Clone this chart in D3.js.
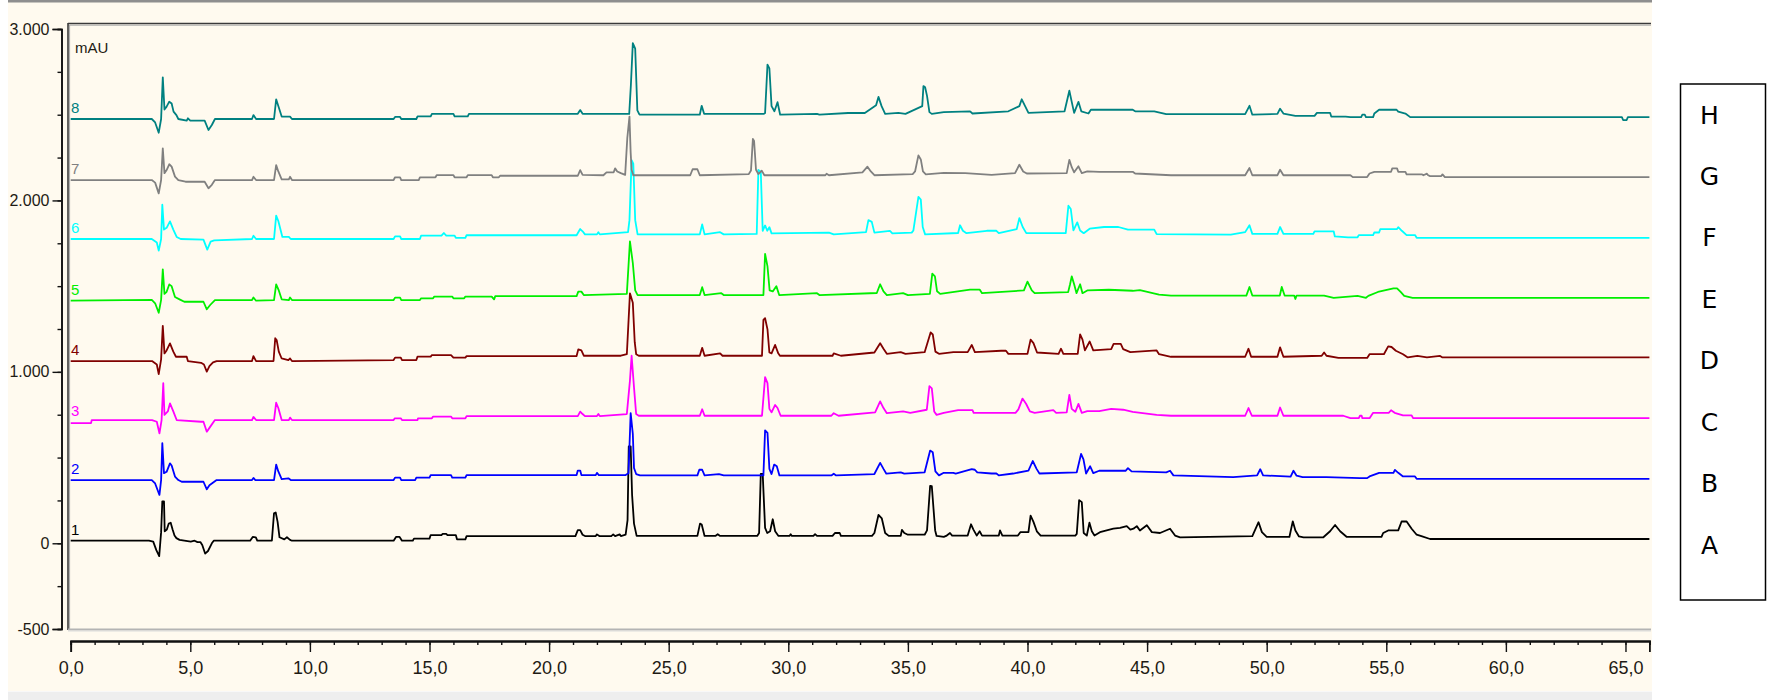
<!DOCTYPE html>
<html>
<head>
<meta charset="utf-8">
<script src="https://cdn.jsdelivr.net/npm/d3@7"></script>
<style>
  html, body { margin: 0; padding: 0; background: #ffffff; }
  svg { display: block; }
</style>
</head>
<body>
<svg id="chart" width="1767" height="700"></svg>
<script>
// Overlay of eight chromatograms (UV, mAU) drawn with a stacking offset.
const traceNumbers = ["1", "2", "3", "4", "5", "6", "7", "8"];
const legendLetters = ["A", "B", "C", "D", "E", "F", "G", "H"];
const traceColors = ["#000000", "#0000ff", "#ff00ff", "#800000", "#00ee00", "#00ffff", "#808080", "#008080"];
const traceOffsets = [15, 369, 709, 1063, 1415, 1775, 2119, 2475];

const yTickValues = [-500, 0, 1000, 2000, 3000];
const yTickLabels = ["-500", "0", "1.000", "2.000", "3.000"];
const xTickValues = [0, 5, 10, 15, 20, 25, 30, 35, 40, 45, 50, 55, 60, 65];
const xTickLabels = ["0,0", "5,0", "10,0", "15,0", "20,0", "25,0", "30,0", "35,0", "40,0", "45,0", "50,0", "55,0", "60,0", "65,0"];

// [retention time (min), signal above trace offset (mAU)]
const trace1 = [[0,0],[3.27,0],[3.45,-5],[3.58,-55],[3.7,-90],[3.78,50],[3.83,230],[3.9,230],[3.93,55],[4.02,65],[4.1,100],[4.18,105],[4.26,65],[4.34,30],[4.42,15],[4.55,5],[5.02,-5],[5.18,0],[5.3,-8],[5.42,-8],[5.5,-25],[5.62,-75],[5.74,-60],[5.9,-15],[5.98,0],[7.5,0],[7.61,22],[7.74,20],[7.8,0],[8.41,0],[8.5,160],[8.57,165],[8.65,110],[8.73,20],[8.93,8],[9.04,20],[9.17,5],[9.25,0],[13.5,0],[13.6,22],[13.75,22],[13.85,0],[14.3,0],[14.35,12],[15.0,12],[15.05,33],[15.5,33],[15.55,40],[15.7,40],[15.75,33],[16.1,33],[16.15,8],[16.5,8],[16.55,27],[21.1,27],[21.2,62],[21.3,62],[21.4,35],[21.5,27],[21.95,27],[22.0,37],[22.1,27],[22.6,27],[22.68,37],[22.76,27],[22.95,37],[23.0,27],[23.2,35],[23.28,120],[23.33,550],[23.41,550],[23.47,267],[23.55,100],[23.66,28],[26.2,28],[26.31,100],[26.38,95],[26.5,28],[26.95,28],[27.05,38],[27.15,28],[28.7,28],[28.78,45],[28.85,390],[28.93,390],[29.03,75],[29.12,45],[29.24,55],[29.35,125],[29.45,55],[29.59,28],[30.05,28],[30.1,38],[30.15,28],[31.05,28],[31.12,38],[31.2,28],[31.85,28],[31.95,45],[32.15,45],[32.2,28],[33.5,28],[33.6,45],[33.77,150],[33.91,130],[34.05,45],[34.2,28],[34.7,28],[34.75,63],[34.85,45],[35.0,35],[35.7,35],[35.8,60],[35.93,320],[36.0,318],[36.14,60],[36.2,28],[36.5,22],[36.6,28],[36.76,45],[36.85,30],[37.5,30],[37.64,96],[37.74,65],[37.88,30],[38.0,55],[38.1,30],[38.8,30],[38.85,60],[38.95,30],[39.6,30],[39.7,50],[40.04,50],[40.13,146],[40.25,110],[40.39,55],[40.55,30],[42.0,30],[42.06,40],[42.16,237],[42.27,225],[42.35,45],[42.48,30],[42.59,105],[42.69,55],[42.8,30],[43.03,50],[43.31,60],[43.59,70],[43.87,75],[44.15,85],[44.3,65],[44.43,70],[44.57,85],[44.7,60],[44.99,90],[45.2,50],[45.54,45],[45.96,70],[46.17,30],[46.38,20],[49.4,27],[49.66,108],[49.8,50],[50.0,22],[50.95,22],[51.09,113],[51.2,60],[51.35,25],[51.54,20],[52.37,20],[52.65,55],[52.86,92],[53.07,55],[53.35,22],[54.8,22],[54.87,45],[55.08,60],[55.5,60],[55.64,112],[55.85,112],[56.06,70],[56.27,35],[56.5,25],[56.83,10],[66,10]];

const trace2 = [[0,0],[3.39,0],[3.53,-20],[3.71,-87],[3.78,0],[3.83,215],[3.9,40],[4.01,48],[4.15,97],[4.22,85],[4.36,20],[4.5,0],[4.64,-10],[5.55,-10],[5.69,-54],[5.8,-30],[6.1,0],[7.58,0],[7.64,12],[7.72,0],[8.5,0],[8.59,90],[8.68,50],[8.82,5],[9.1,10],[9.2,0],[13.5,0],[13.56,14],[13.77,14],[13.82,0],[14.4,0],[14.45,14],[15.0,14],[15.05,29],[15.9,29],[15.95,14],[16.5,14],[16.55,29],[21.15,29],[21.2,55],[21.3,55],[21.35,29],[21.95,29],[22.0,42],[22.08,29],[23.2,29],[23.32,40],[23.41,390],[23.5,270],[23.55,70],[23.64,35],[23.8,27],[26.2,27],[26.28,60],[26.4,60],[26.5,27],[27.1,35],[27.3,27],[28.96,27],[29.03,290],[29.13,275],[29.21,65],[29.3,35],[29.41,90],[29.52,80],[29.63,27],[31.8,27],[31.9,37],[32.0,27],[33.6,35],[33.84,100],[33.98,65],[34.1,37],[34.7,45],[34.85,37],[35.7,45],[35.93,172],[36.04,162],[36.15,50],[36.3,27],[36.5,42],[36.9,42],[37.0,38],[37.67,63],[37.8,60],[37.9,45],[38.5,38],[38.7,38],[38.8,27],[39.4,38],[40.04,55],[40.22,111],[40.38,65],[40.5,38],[42.06,45],[42.24,152],[42.34,120],[42.45,38],[42.62,80],[42.75,40],[43.0,54],[44.1,54],[44.2,69],[44.35,50],[45.8,45],[45.96,54],[46.1,27],[48.6,17],[49.6,27],[49.73,63],[49.85,27],[51.0,20],[51.12,54],[51.25,25],[51.5,17],[52.5,17],[53.9,11],[54.2,11],[54.3,21],[54.7,42],[55.3,42],[55.36,59],[55.5,42],[55.7,21],[56.2,21],[56.27,7],[66,7]];

const trace3 = [[0,-8],[0.85,-8],[0.88,10],[3.4,10],[3.6,0],[3.71,-68],[3.8,10],[3.87,225],[3.92,40],[4.06,60],[4.15,107],[4.29,60],[4.43,10],[5.45,0],[5.55,0],[5.69,-58],[5.83,-30],[6.03,10],[7.58,10],[7.64,28],[7.75,10],[8.5,10],[8.59,111],[8.68,80],[8.82,10],[9.12,10],[9.17,24],[9.25,10],[13.5,10],[13.55,20],[13.8,20],[13.85,10],[14.5,10],[14.52,20],[15.1,20],[15.15,30],[15.9,30],[15.95,20],[16.5,20],[16.55,33],[21.2,33],[21.3,59],[21.4,45],[21.5,33],[22.0,33],[22.06,45],[22.12,33],[23.25,45],[23.38,240],[23.45,385],[23.55,200],[23.64,45],[23.75,35],[26.3,35],[26.4,73],[26.5,35],[28.9,35],[29.03,260],[29.13,225],[29.21,75],[29.3,55],[29.45,98],[29.55,80],[29.68,35],[31.8,35],[31.9,50],[32.1,35],[33.63,55],[33.84,119],[33.98,80],[34.12,50],[34.8,60],[35.1,52],[35.79,70],[35.9,208],[36.0,195],[36.1,60],[36.2,40],[36.5,52],[37.1,68],[37.7,68],[37.75,52],[39.5,52],[39.62,72],[39.79,135],[39.94,105],[40.1,60],[40.3,52],[41.08,68],[41.2,52],[41.64,55],[41.75,156],[41.85,75],[42.0,58],[42.13,104],[42.27,52],[42.5,62],[43.0,62],[43.5,75],[44.0,70],[44.4,58],[45.4,40],[46.0,35],[49.1,35],[49.24,80],[49.38,35],[50.45,35],[50.56,83],[50.7,35],[53.2,35],[53.5,21],[53.85,21],[53.9,35],[53.97,35],[54.0,21],[54.3,21],[54.45,52],[55.1,52],[55.2,67],[55.35,52],[55.7,37],[56.06,37],[56.12,21],[66,21]];

const trace4 = [[0,0],[3.4,0],[3.6,-20],[3.68,-76],[3.78,10],[3.85,205],[3.92,45],[4.01,62],[4.15,103],[4.29,55],[4.4,25],[4.85,25],[4.9,0],[5.45,-10],[5.57,-20],[5.69,-62],[5.8,-30],[5.95,-8],[6.1,0],[7.58,0],[7.64,29],[7.75,0],[8.48,0],[8.55,133],[8.61,123],[8.7,55],[8.82,15],[9.1,5],[9.17,15],[9.25,0],[13.5,6],[13.56,20],[13.8,20],[13.85,6],[14.45,6],[14.5,26],[15.05,26],[15.1,35],[15.9,35],[16.0,20],[16.5,20],[16.55,29],[21.15,29],[21.22,68],[21.35,62],[21.45,31],[23.0,31],[23.25,40],[23.38,395],[23.5,340],[23.58,110],[23.64,40],[23.75,31],[26.3,31],[26.4,77],[26.5,31],[27.15,45],[27.25,31],[28.9,31],[28.96,240],[29.03,250],[29.13,185],[29.21,50],[29.3,45],[29.45,94],[29.58,45],[29.65,31],[31.85,31],[31.9,45],[32.2,31],[33.6,50],[33.84,104],[33.98,72],[34.12,42],[34.7,52],[34.9,42],[35.7,52],[35.95,167],[36.04,155],[36.15,55],[36.3,42],[36.9,52],[37.5,52],[37.67,94],[37.8,52],[38.9,60],[39.1,60],[39.2,42],[40.0,42],[40.13,125],[40.25,105],[40.4,50],[41.3,42],[41.4,72],[41.5,42],[42.1,42],[42.2,156],[42.3,125],[42.4,62],[42.6,114],[42.75,62],[43.5,70],[43.6,100],[43.9,100],[44.0,70],[44.3,52],[45.4,62],[45.5,40],[46.0,25],[49.1,25],[49.24,72],[49.35,25],[50.45,25],[50.56,80],[50.7,25],[52.3,31],[52.4,50],[52.5,31],[53.0,18],[54.2,18],[54.3,40],[54.9,40],[55.08,86],[55.22,82],[55.4,60],[55.7,40],[55.9,21],[56.3,30],[56.7,21],[57.25,30],[57.35,21],[66,21]];

const trace5 = [[0,0],[3.39,5],[3.53,-15],[3.68,-70],[3.78,5],[3.85,183],[3.92,40],[4.01,52],[4.12,95],[4.22,85],[4.36,22],[4.55,8],[4.75,-6],[5.55,-6],[5.69,-50],[5.83,-25],[6.03,4],[7.58,4],[7.64,19],[7.75,0],[8.5,4],[8.59,95],[8.7,60],[8.82,8],[9.12,4],[9.17,19],[9.25,4],[13.5,4],[13.56,18],[13.77,18],[13.82,4],[14.6,4],[14.65,14],[15.15,14],[15.2,24],[15.95,24],[16.0,14],[16.45,14],[16.5,24],[17.6,24],[17.7,8],[17.75,27],[21.15,27],[21.22,53],[21.35,53],[21.45,33],[23.25,40],[23.38,346],[23.5,220],[23.6,60],[23.7,33],[26.3,33],[26.4,79],[26.5,33],[27.2,44],[27.3,33],[28.96,33],[29.03,273],[29.13,200],[29.22,60],[29.35,54],[29.5,85],[29.62,33],[31.2,44],[31.3,33],[33.7,45],[33.84,96],[33.98,54],[34.12,33],[34.8,44],[35.0,33],[35.92,40],[36.02,158],[36.13,142],[36.22,55],[36.35,40],[37.6,65],[38.0,65],[38.1,44],[39.85,60],[40.0,111],[40.18,60],[40.3,44],[41.7,50],[41.78,96],[41.85,142],[41.95,96],[42.05,44],[42.2,96],[42.3,44],[42.5,60],[43.4,64],[44.4,58],[44.7,62],[45.5,35],[46.0,30],[49.15,30],[49.28,80],[49.4,30],[50.55,30],[50.63,80],[50.75,30],[51.15,30],[51.2,10],[51.25,30],[52.4,30],[52.8,17],[53.8,28],[54.15,17],[54.25,28],[54.65,51],[55.3,72],[55.45,72],[55.6,51],[55.75,28],[56.1,17],[66,17]];

const trace6 = [[0,0],[3.39,0],[3.6,-20],[3.68,-68],[3.78,0],[3.83,200],[3.9,55],[4.01,65],[4.15,103],[4.29,55],[4.43,12],[4.6,0],[5.55,-4],[5.71,-62],[5.85,-15],[6.0,-8],[7.58,0],[7.64,19],[7.75,0],[8.5,0],[8.59,136],[8.68,105],[8.85,12],[9.12,12],[9.2,0],[13.5,0],[13.56,15],[13.77,15],[13.82,0],[14.6,0],[14.65,20],[15.5,20],[15.6,35],[15.7,20],[16.05,20],[16.1,7],[16.5,7],[16.55,22],[21.15,22],[21.3,58],[21.4,45],[21.5,27],[22.0,27],[22.06,40],[22.12,27],[23.3,40],[23.36,110],[23.45,460],[23.52,440],[23.6,110],[23.7,27],[26.3,27],[26.4,85],[26.5,27],[27.15,40],[27.3,27],[28.68,30],[28.75,403],[28.85,393],[28.93,48],[29.03,79],[29.12,48],[29.21,69],[29.3,33],[31.7,37],[31.9,27],[33.25,40],[33.35,110],[33.49,100],[33.6,37],[34.25,47],[34.35,33],[35.16,37],[35.23,50],[35.44,246],[35.54,230],[35.62,70],[35.72,27],[37.1,35],[37.18,80],[37.3,48],[37.45,34],[38.3,48],[38.7,48],[38.8,34],[39.55,58],[39.66,122],[39.8,70],[39.95,34],[41.6,34],[41.71,194],[41.81,175],[41.92,50],[42.08,97],[42.2,50],[42.35,34],[42.6,60],[43.2,70],[43.8,70],[44.2,55],[45.3,55],[45.4,28],[48.5,25],[49.1,40],[49.28,80],[49.4,30],[50.45,30],[50.56,70],[50.7,30],[51.95,30],[52.0,45],[52.8,45],[52.85,15],[53.4,10],[53.8,10],[53.85,23],[54.45,23],[54.5,38],[54.7,38],[54.75,58],[55.45,58],[55.5,69],[55.65,48],[55.85,23],[56.2,23],[56.27,7],[66,7]];

const trace7 = [[0,0],[3.39,0],[3.53,-15],[3.68,-78],[3.78,0],[3.85,185],[3.92,40],[4.01,58],[4.12,92],[4.22,78],[4.36,20],[4.5,0],[4.8,-10],[5.6,-10],[5.76,-48],[5.9,-28],[6.03,0],[7.58,0],[7.64,19],[7.75,0],[8.5,0],[8.59,87],[8.68,50],[8.82,4],[9.12,4],[9.17,19],[9.25,0],[13.5,0],[13.56,16],[13.77,16],[13.82,0],[14.55,0],[14.6,16],[15.25,16],[15.3,29],[16.0,29],[16.05,16],[16.55,16],[16.6,29],[17.6,29],[17.65,16],[17.9,16],[17.95,25],[21.2,25],[21.3,58],[21.4,30],[22.27,28],[22.4,45],[22.7,45],[22.76,68],[22.85,50],[23.0,40],[23.18,30],[23.27,246],[23.36,370],[23.41,160],[23.45,60],[23.52,28],[25.9,28],[26.0,63],[26.2,63],[26.3,28],[28.35,35],[28.44,55],[28.52,240],[28.57,228],[28.65,60],[28.75,35],[28.89,55],[29.0,28],[31.55,28],[31.6,37],[31.7,28],[33.1,45],[33.31,78],[33.45,50],[33.6,28],[35.2,35],[35.3,50],[35.44,144],[35.54,120],[35.63,50],[35.75,33],[36.5,42],[37.4,40],[38.5,30],[39.48,40],[39.66,89],[39.82,50],[39.97,38],[41.64,40],[41.75,118],[41.85,75],[41.95,45],[42.13,80],[42.27,40],[42.5,50],[43.0,48],[44.4,48],[44.5,38],[46.0,28],[49.1,28],[49.28,70],[49.4,28],[50.45,28],[50.56,60],[50.7,28],[53.5,28],[53.6,17],[54.2,17],[54.3,38],[54.5,48],[55.2,48],[55.25,68],[55.45,68],[55.5,48],[55.8,48],[55.85,33],[56.5,33],[56.55,28],[56.7,37],[56.75,28],[56.83,23],[57.3,23],[57.35,33],[57.45,17],[66,17]];

const trace8 = [[0,0],[3.39,0],[3.53,-20],[3.68,-80],[3.78,0],[3.85,243],[3.92,55],[4.01,72],[4.12,101],[4.22,90],[4.3,43],[4.42,23],[4.5,0],[4.85,-10],[4.9,4],[5.0,-10],[5.6,-10],[5.76,-64],[5.9,-35],[6.03,0],[7.58,0],[7.64,23],[7.75,0],[8.5,0],[8.59,115],[8.68,76],[8.82,14],[9.12,14],[9.17,14],[9.25,0],[13.5,0],[13.56,12],[13.77,12],[13.82,0],[14.45,0],[14.5,15],[15.05,15],[15.1,30],[16.0,30],[16.05,15],[16.6,15],[16.65,30],[21.2,30],[21.3,52],[21.4,30],[23.35,30],[23.42,200],[23.5,442],[23.6,410],[23.69,50],[23.78,25],[26.3,25],[26.38,77],[26.48,30],[28.98,30],[29.03,35],[29.13,317],[29.21,295],[29.3,75],[29.42,45],[29.55,98],[29.66,25],[31.2,30],[31.3,25],[32.5,35],[33.2,35],[33.67,80],[33.77,129],[33.9,75],[34.05,30],[34.6,36],[34.9,30],[35.6,75],[35.65,192],[35.72,185],[35.8,135],[35.9,40],[36.0,30],[36.5,40],[37.6,45],[37.7,32],[39.2,45],[39.66,75],[39.76,115],[39.9,75],[40.04,36],[41.55,45],[41.75,165],[41.85,100],[41.95,36],[42.13,100],[42.25,45],[42.55,32],[42.65,54],[44.4,54],[44.5,45],[45.3,45],[45.8,28],[49.1,28],[49.28,77],[49.4,25],[50.45,30],[50.56,60],[50.7,32],[51.2,18],[52.0,18],[52.1,36],[52.65,36],[52.7,14],[53.3,14],[53.5,11],[53.95,11],[54.0,25],[54.1,25],[54.15,11],[54.45,11],[54.5,32],[54.7,54],[55.43,54],[55.5,43],[55.8,32],[56.0,11],[64.85,11],[64.9,-6],[65.05,-6],[65.1,11],[66,11]];

const traces = [trace1, trace2, trace3, trace4, trace5, trace6, trace7, trace8];

const svg = d3.select("#chart");
const W = 1767, H = 700;

// window panel
svg.append("rect").attr("x", 8).attr("y", 0).attr("width", 1644).attr("height", H).attr("fill", "#fffaef");
svg.append("rect").attr("x", 8).attr("y", 0).attr("width", 1644).attr("height", 2.5).attr("fill", "#8e8e8e");
svg.append("rect").attr("x", 8).attr("y", 692).attr("width", 1644).attr("height", 8).attr("fill", "#eeeeee");
svg.append("rect").attr("x", 8).attr("y", 691).attr("width", 1644).attr("height", 1).attr("fill", "#f8f8f8");

const plot = { left: 68, top: 23, right: 1651, bottom: 629 };

const x = d3.scaleLinear().domain([0, 66]).range([70.7, 1649.4]);
const y = d3.scaleLinear().domain([-500, 3000]).range([629, 29]);

// plot frame
const frame = svg.append("g");
frame.append("line").attr("x1", plot.left).attr("x2", plot.right).attr("y1", 23.5).attr("y2", 23.5)
  .attr("stroke", "#3a3a3a").attr("stroke-width", 1.6);
frame.append("line").attr("x1", plot.left).attr("x2", plot.right).attr("y1", 25.2).attr("y2", 25.2)
  .attr("stroke", "#a8a8a8").attr("stroke-width", 1);
frame.append("line").attr("x1", 68).attr("x2", 68).attr("y1", 23).attr("y2", 630)
  .attr("stroke", "#3a3a3a").attr("stroke-width", 1.6);
frame.append("line").attr("x1", 69.6).attr("x2", 69.6).attr("y1", 25).attr("y2", 629)
  .attr("stroke", "#a8a8a8").attr("stroke-width", 1);
frame.append("line").attr("x1", plot.left).attr("x2", plot.right).attr("y1", 629.5).attr("y2", 629.5)
  .attr("stroke", "#b4b4b4").attr("stroke-width", 2);
frame.append("line").attr("x1", plot.left).attr("x2", plot.right).attr("y1", 631).attr("y2", 631)
  .attr("stroke", "#dcdcdc").attr("stroke-width", 1);

// y axis
const axisFont = "'Liberation Sans', Arial, sans-serif";
const yMinor = svg.append("g").attr("transform", "translate(61.5,0)")
  .call(d3.axisLeft(y).tickValues(d3.range(-500, 3001, 250)).tickSize(4).tickFormat(""));
const yMajor = svg.append("g").attr("transform", "translate(61.5,0)")
  .call(d3.axisLeft(y).tickValues(yTickValues).tickSize(9).tickPadding(3)
    .tickFormat((d, i) => yTickLabels[i]));
[yMinor, yMajor].forEach(g => {
  g.select(".domain").attr("stroke", "#111").attr("stroke-width", 1.6);
  g.selectAll(".tick line").attr("stroke", "#111").attr("stroke-width", 1.4);
});
yMajor.selectAll(".tick text").attr("font-family", axisFont).attr("font-size", 16)
  .attr("fill", "#1e1a14");

// x axis
const xMinor = svg.append("g").attr("transform", "translate(0,641)")
  .call(d3.axisBottom(x).tickValues(d3.range(0, 66.01, 1)).tickSize(4).tickFormat(""));
const xMajor = svg.append("g").attr("transform", "translate(0,641)")
  .call(d3.axisBottom(x).tickValues(xTickValues).tickSize(11).tickPadding(9)
    .tickFormat((d, i) => xTickLabels[i]));
[xMinor, xMajor].forEach(g => {
  g.select(".domain").attr("stroke", "#111").attr("stroke-width", 1.8);
  g.selectAll(".tick line").attr("stroke", "#111").attr("stroke-width", 1.4);
});
xMajor.selectAll(".tick text").attr("font-family", "'Liberation Sans Narrow', 'Liberation Sans', Arial, sans-serif")
  .attr("font-size", 18).attr("fill", "#1e1a14");

// unit label
svg.append("text").attr("x", 75).attr("y", 53).attr("font-family", axisFont).attr("font-size", 15)
  .attr("fill", "#1e1a14").text("mAU");

// traces
svg.append("clipPath").attr("id", "plotClip").append("rect")
  .attr("x", 69).attr("y", 24).attr("width", plot.right - 69).attr("height", plot.bottom - 24);

const traceLayer = svg.append("g").attr("clip-path", "url(#plotClip)");
traces.forEach((data, i) => {
  const line = d3.line()
    .x(d => x(d[0]))
    .y(d => y(d[1] + traceOffsets[i]));
  traceLayer.append("path")
    .datum(data)
    .attr("d", line)
    .attr("fill", "none")
    .attr("stroke", traceColors[i])
    .attr("stroke-width", 1.8)
    .attr("stroke-linejoin", "round");
});

// trace numbers at the start of each trace
svg.append("g").selectAll("text").data(traceNumbers).join("text")
  .attr("x", 71)
  .attr("y", (d, i) => y(traceOffsets[i]) - 6)
  .attr("font-family", axisFont)
  .attr("font-size", 15)
  .attr("fill", (d, i) => traceColors[i])
  .text(d => d);

// legend: letters evenly spaced in a framed column, A at the bottom
const legendY = d3.scalePoint().domain(legendLetters).range([545, 115]);
const legend = svg.append("g");
legend.append("rect").attr("x", 1680.5).attr("y", 84).attr("width", 85).attr("height", 516)
  .attr("fill", "#ffffff").attr("stroke", "#000").attr("stroke-width", 1.5);
legend.selectAll("text").data(legendLetters).join("text")
  .attr("x", 1709.5)
  .attr("y", d => legendY(d))
  .attr("text-anchor", "middle")
  .attr("dominant-baseline", "central")
  .attr("font-family", "'DejaVu Sans', sans-serif")
  .attr("font-size", 25)
  .attr("fill", "#000")
  .text(d => d);
</script>
</body>
</html>
